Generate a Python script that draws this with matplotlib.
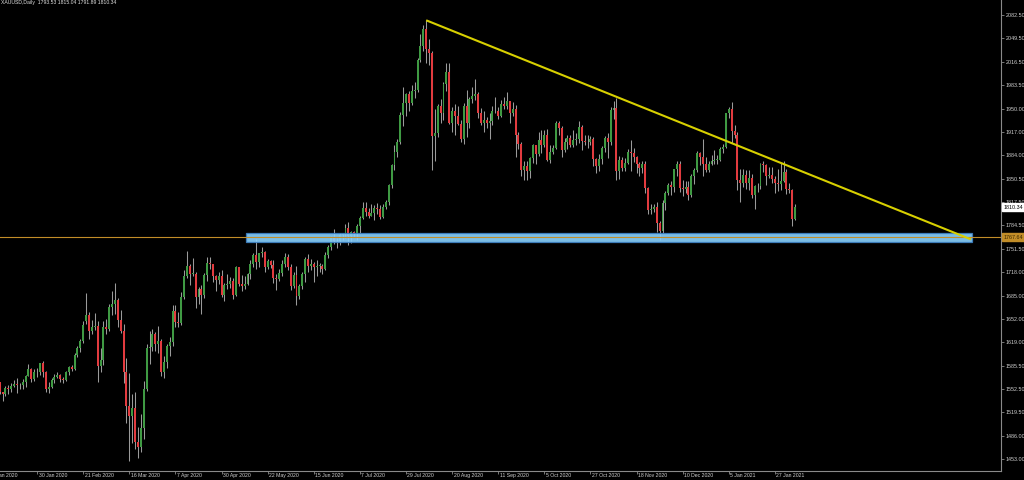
import numpy as np
import pandas as pd
import matplotlib.pyplot as plt
from matplotlib.patches import Rectangle
from matplotlib.transforms import blended_transform_factory

# XAUUSD daily, 8 Jan 2020 .. 5 Feb 2021 (one bar per trading day)
holidays = ['2020-04-10', '2020-12-25', '2021-01-01']
dates = pd.bdate_range('2020-01-08', '2021-02-05').drop(pd.to_datetime(holidays))

opens = [
    # Jan 2020
    1574, 1556, 1552, 1562, 1548, 1545, 1554, 1552, 1557, 1560, 1558, 1558, 1563, 1571, 1581, 1567, 1577, 1576,
    # Feb
    1589, 1576, 1553, 1556, 1566, 1570, 1572, 1567, 1566, 1576, 1584, 1581, 1601, 1611, 1620, 1649, 1658, 1635, 1641, 1642,
    # Mar
    1585, 1594, 1641, 1637, 1669, 1673, 1679, 1650, 1635, 1576, 1529, 1514, 1526, 1477, 1471, 1498, 1553, 1611, 1612, 1630, 1617, 1620,
    # Apr
    1577, 1591, 1614, 1619, 1663, 1648, 1646, 1683, 1713, 1727, 1716, 1716, 1683, 1694, 1686, 1714, 1731, 1729, 1713, 1707, 1713,
    # May
    1686, 1700, 1702, 1705, 1686, 1725, 1702, 1698, 1702, 1715, 1730, 1743, 1733, 1745, 1747, 1725, 1734, 1728, 1710, 1708, 1717,
    # Jun
    1730, 1740, 1726, 1699, 1714, 1684, 1698, 1715, 1737, 1727, 1730, 1726, 1727, 1727, 1722, 1743, 1754, 1768, 1762, 1762, 1771, 1772,
    # Jul
    1781, 1770, 1775, 1773, 1783, 1795, 1809, 1803, 1798, 1802, 1809, 1808, 1796, 1810, 1817, 1842, 1870, 1888, 1902, 1941, 1958, 1970, 1958,
    # Aug
    1975, 1976, 2019, 2038, 2062, 2035, 2028, 1911, 1915, 1954, 1944, 1985, 2002, 1929, 1947, 1940, 1928, 1907, 1954, 1929, 1964,
    # Sep
    1968, 1971, 1944, 1930, 1934, 1929, 1932, 1946, 1947, 1940, 1956, 1954, 1960, 1943, 1950, 1912, 1900, 1863, 1868, 1861, 1880, 1898,
    # Oct
    1886, 1906, 1899, 1913, 1877, 1888, 1894, 1930, 1922, 1891, 1902, 1908, 1899, 1905, 1907, 1924, 1904, 1902, 1902, 1907, 1878, 1868,
    # Nov
    1879, 1894, 1908, 1903, 1948, 1951, 1862, 1877, 1866, 1873, 1888, 1887, 1881, 1871, 1866, 1871, 1837, 1806, 1807, 1811, 1788,
    # Dec
    1776, 1816, 1830, 1841, 1839, 1864, 1871, 1838, 1836, 1839, 1827, 1854, 1863, 1887, 1881, 1872, 1863, 1872, 1876, 1877, 1877, 1893,
    # Jan 2021
    1895, 1943, 1950, 1918, 1913, 1849, 1844, 1856, 1845, 1851, 1828, 1840, 1840, 1871, 1870, 1855, 1856, 1850, 1844, 1843,
    # Feb 2021
    1848, 1860, 1836, 1835, 1793.53,
]
highs = [
    1611, 1561, 1563, 1563, 1549, 1557, 1558, 1561, 1566, 1568, 1561, 1567, 1573, 1588, 1583, 1581, 1583, 1590,
    1592, 1578, 1562, 1568, 1574, 1576, 1574, 1570, 1578, 1585, 1586, 1603, 1613, 1624, 1649, 1689, 1661, 1651, 1660, 1649,
    1610, 1649, 1652, 1673, 1692, 1703, 1681, 1665, 1645, 1596, 1575, 1546, 1548, 1499, 1517, 1564, 1617, 1635, 1637, 1633, 1642, 1624,
    1600, 1617, 1626, 1672, 1672, 1662, 1690, 1721, 1748, 1730, 1738, 1719, 1697, 1700, 1717, 1739, 1739, 1730, 1714, 1718, 1721,
    1703, 1716, 1711, 1710, 1727, 1726, 1714, 1712, 1717, 1735, 1745, 1765, 1745, 1754, 1748, 1737, 1736, 1735, 1716, 1722, 1736,
    1745, 1744, 1729, 1718, 1727, 1702, 1719, 1739, 1744, 1737, 1732, 1736, 1731, 1729, 1746, 1756, 1769, 1779, 1767, 1773, 1774, 1786,
    1789, 1776, 1777, 1786, 1797, 1818, 1818, 1809, 1815, 1813, 1816, 1813, 1814, 1820, 1843, 1872, 1898, 1907, 1945, 1981, 1972, 1975, 1984,
    1987, 2021, 2055, 2069, 2075, 2049, 2032, 1949, 1956, 1964, 1988, 2015, 2014, 1952, 1956, 1953, 1934, 1958, 1976, 1966, 1980,
    1992, 1973, 1951, 1946, 1938, 1944, 1953, 1966, 1952, 1962, 1966, 1973, 1961, 1959, 1955, 1917, 1902, 1875, 1875, 1882, 1900, 1899,
    1917, 1919, 1920, 1921, 1898, 1898, 1933, 1933, 1925, 1908, 1913, 1913, 1920, 1916, 1932, 1926, 1912, 1912, 1911, 1910, 1880, 1885,
    1897, 1911, 1916, 1952, 1960, 1965, 1883, 1882, 1880, 1892, 1906, 1894, 1883, 1874, 1875, 1875, 1839, 1815, 1814, 1817, 1790,
    1820, 1833, 1844, 1848, 1865, 1875, 1875, 1849, 1848, 1847, 1857, 1866, 1890, 1889, 1907, 1882, 1876, 1884, 1891, 1884, 1896, 1900,
    1944, 1952, 1959, 1926, 1917, 1865, 1864, 1863, 1863, 1857, 1841, 1845, 1873, 1875, 1871, 1867, 1867, 1854, 1865, 1873,
    1875, 1864, 1845, 1836, 1815.04,
]
lows = [
    1553, 1536, 1549, 1545, 1536, 1542, 1546, 1549, 1556, 1547, 1552, 1553, 1556, 1571, 1563, 1564, 1570, 1572,
    1570, 1548, 1547, 1554, 1561, 1568, 1563, 1561, 1564, 1573, 1578, 1579, 1598, 1605, 1618, 1644, 1624, 1630, 1636, 1562,
    1576, 1586, 1631, 1635, 1658, 1659, 1640, 1632, 1561, 1504, 1451, 1476, 1468, 1455, 1463, 1482, 1550, 1588, 1607, 1606, 1603, 1571,
    1568, 1583, 1600, 1613, 1640, 1641, 1643, 1680, 1710, 1700, 1712, 1667, 1673, 1659, 1682, 1705, 1723, 1704, 1691, 1702, 1683,
    1677, 1694, 1695, 1680, 1684, 1698, 1692, 1694, 1700, 1708, 1725, 1722, 1726, 1740, 1718, 1723, 1724, 1703, 1693, 1705, 1712,
    1725, 1721, 1693, 1696, 1671, 1680, 1694, 1704, 1718, 1721, 1704, 1712, 1718, 1715, 1721, 1738, 1749, 1758, 1753, 1757, 1763, 1767,
    1757, 1759, 1768, 1763, 1773, 1793, 1798, 1795, 1797, 1792, 1801, 1794, 1795, 1807, 1813, 1838, 1863, 1882, 1900, 1925, 1940, 1947, 1955,
    1965, 1973, 2016, 2031, 2015, 2012, 1863, 1875, 1909, 1930, 1934, 1975, 1928, 1917, 1912, 1926, 1903, 1900, 1910, 1923, 1958,
    1962, 1936, 1927, 1917, 1923, 1907, 1927, 1943, 1935, 1938, 1950, 1949, 1929, 1940, 1882, 1892, 1855, 1849, 1849, 1851, 1873, 1872,
    1883, 1887, 1895, 1875, 1873, 1885, 1892, 1913, 1882, 1889, 1892, 1895, 1895, 1898, 1901, 1891, 1898, 1894, 1898, 1869, 1859, 1862,
    1871, 1888, 1880, 1899, 1935, 1849, 1850, 1861, 1862, 1872, 1862, 1874, 1858, 1855, 1859, 1831, 1801, 1800, 1803, 1775, 1764,
    1774, 1806, 1828, 1828, 1832, 1855, 1832, 1826, 1830, 1820, 1825, 1843, 1860, 1870, 1855, 1860, 1860, 1870, 1871, 1871, 1875, 1887,
    1894, 1936, 1901, 1908, 1835, 1817, 1839, 1836, 1834, 1823, 1808, 1832, 1836, 1860, 1841, 1851, 1844, 1830, 1833, 1834,
    1846, 1829, 1830, 1784, 1791.89,
]
closes = [
    1556, 1552, 1562, 1548, 1545, 1554, 1552, 1557, 1560, 1558, 1558, 1563, 1571, 1581, 1567, 1577, 1576, 1589,
    1576, 1553, 1556, 1566, 1570, 1572, 1567, 1566, 1576, 1584, 1581, 1601, 1611, 1620, 1643, 1658, 1635, 1641, 1642, 1585,
    1594, 1641, 1637, 1669, 1673, 1679, 1650, 1635, 1576, 1529, 1514, 1526, 1477, 1471, 1498, 1553, 1611, 1612, 1630, 1617, 1620, 1577,
    1591, 1614, 1619, 1663, 1648, 1646, 1683, 1713, 1727, 1716, 1716, 1683, 1694, 1686, 1714, 1731, 1729, 1713, 1707, 1713, 1686,
    1700, 1702, 1705, 1686, 1725, 1702, 1698, 1702, 1715, 1730, 1743, 1733, 1745, 1747, 1725, 1734, 1728, 1710, 1708, 1717, 1730,
    1740, 1726, 1699, 1714, 1684, 1698, 1715, 1737, 1727, 1730, 1726, 1727, 1727, 1722, 1743, 1754, 1768, 1762, 1762, 1771, 1772, 1781,
    1770, 1775, 1773, 1783, 1795, 1809, 1803, 1798, 1802, 1809, 1808, 1796, 1810, 1817, 1842, 1870, 1888, 1902, 1941, 1958, 1970, 1958, 1975,
    1976, 2019, 2038, 2062, 2035, 2028, 1911, 1915, 1954, 1944, 1985, 2002, 1929, 1947, 1940, 1928, 1907, 1954, 1929, 1964, 1968,
    1971, 1944, 1930, 1934, 1929, 1932, 1946, 1947, 1940, 1956, 1954, 1960, 1943, 1950, 1912, 1900, 1863, 1868, 1861, 1880, 1898, 1886,
    1906, 1899, 1913, 1877, 1888, 1894, 1930, 1922, 1891, 1902, 1908, 1899, 1905, 1907, 1924, 1904, 1902, 1902, 1907, 1878, 1868, 1879,
    1894, 1908, 1903, 1948, 1951, 1862, 1877, 1866, 1873, 1888, 1887, 1881, 1871, 1866, 1871, 1837, 1806, 1807, 1811, 1788, 1776,
    1816, 1830, 1841, 1839, 1864, 1871, 1838, 1836, 1839, 1827, 1854, 1863, 1887, 1881, 1872, 1863, 1872, 1876, 1877, 1877, 1893, 1895,
    1943, 1950, 1918, 1913, 1849, 1844, 1856, 1845, 1851, 1828, 1840, 1840, 1871, 1870, 1855, 1856, 1850, 1844, 1843, 1848,
    1860, 1836, 1835, 1794, 1810.34,
]

date_labels = ['8 Jan 2020', '30 Jan 2020', '21 Feb 2020', '16 Mar 2020', '7 Apr 2020', '30 Apr 2020',
               '22 May 2020', '15 Jun 2020', '7 Jul 2020', '29 Jul 2020', '20 Aug 2020', '11 Sep 2020',
               '5 Oct 2020', '27 Oct 2020', '18 Nov 2020', '10 Dec 2020', '5 Jan 2021', '27 Jan 2021']
price_ticks = [2082.5, 2049.5, 2016.5, 1983.5, 1950.0, 1917.0, 1884.0, 1850.5, 1817.5, 1784.5,
               1751.5, 1718.0, 1685.0, 1652.0, 1619.0, 1585.5, 1552.5, 1519.5, 1486.0, 1453.0]

# drawn objects
support_level = 1767.64
zone_low, zone_high = 1760.6, 1774.3
zone_start, zone_end = 88.5, 340.5
trend_end_bar, trend_end_price = 340, 1764.6

o = np.array(opens, float)
h = np.array(highs, float)
l = np.array(lows, float)
c = np.array(closes, float)
x = np.arange(len(dates))

plt.rcParams['font.family'] = ['Liberation Sans', 'DejaVu Sans']

fig = plt.figure(figsize=(10.24, 4.8), dpi=100, facecolor='black')
ax = fig.add_axes([0, 9 / 480, 1001 / 1024, 471 / 480], facecolor='black')

up = c >= o
body = np.abs(c - o)
body = np.where(body < 0.8, 0.8, body)
ax.vlines(x, l, h, color='#9a9a9a', lw=0.75, zorder=2)
ax.bar(x[up], body[up], bottom=o[up], width=0.68, color='#3f9a43', lw=0, zorder=3)
ax.bar(x[~up], body[~up], bottom=c[~up], width=0.68, color='#e23b3f', lw=0, zorder=3)

# support zone and level
ax.add_patch(Rectangle((zone_start, zone_low), zone_end - zone_start, zone_high - zone_low,
                       facecolor='#87cefa', edgecolor='#3d7fc0', lw=0.9, alpha=0.92, zorder=4))
ax.axhline(support_level, color='#c28d28', lw=0.8, zorder=5)

# falling trendline from the August high
top = int(np.argmax(h))
ax.plot([top, trend_end_bar], [h[top], trend_end_price], color='#d8d000', lw=1.5,
        solid_capstyle='butt', zorder=6)

for s in ['left', 'top']:
    ax.spines[s].set_visible(False)
for s in ['right', 'bottom']:
    ax.spines[s].set_color('#8a8a8a')
    ax.spines[s].set_linewidth(0.8)

ax.yaxis.tick_right()
ax.set_yticks(price_ticks)
ax.set_yticklabels([f'{v:.2f}' for v in price_ticks])
ax.tick_params(axis='y', direction='out', length=2.2, width=0.6, color='#8a8a8a',
               labelsize=3.9, labelcolor='#d0d0d0', pad=1.2)

label_pos = [dates.get_loc(pd.Timestamp(d)) for d in date_labels]
ax.set_xticks(label_pos)
ax.set_xticklabels([])
ax.tick_params(axis='x', direction='out', length=2.2, width=0.6, color='#8a8a8a')

# limits after the ticks, so the off-screen first tick does not widen the view
ax.set_xlim(3.12, 350.45)
ax.set_ylim(1436.4, 2103.75)

xtrans = blended_transform_factory(ax.transData, ax.transAxes)
for p, t in zip(label_pos, date_labels):
    ax.text(p + 0.5, -0.004, t, transform=xtrans, ha='left', va='top',
            fontsize=3.7, color='#d0d0d0', clip_on=False)

# price boxes on the right scale
ytrans = blended_transform_factory(ax.transAxes, ax.transData)
ax.text(1.0025, c[-1], f'{c[-1]:.2f}', transform=ytrans, ha='left', va='center', fontsize=3.9,
        color='black', bbox=dict(boxstyle='square,pad=0.25', fc='white', ec='white'), zorder=8)
ax.text(1.0025, support_level, f'{support_level:.2f}', transform=ytrans, ha='left', va='center',
        fontsize=3.9, color='#3a2800',
        bbox=dict(boxstyle='square,pad=0.25', fc='#c28d28', ec='#c28d28'), zorder=8)

ax.text(0.001, 0.999, f'XAUUSD,Daily  {o[-1]:.2f} {h[-1]:.2f} {l[-1]:.2f} {c[-1]:.2f}',
        transform=ax.transAxes, ha='left', va='top', fontsize=3.7, color='#e0e0e0')

fig.savefig('out.png', dpi=100, facecolor='black')
